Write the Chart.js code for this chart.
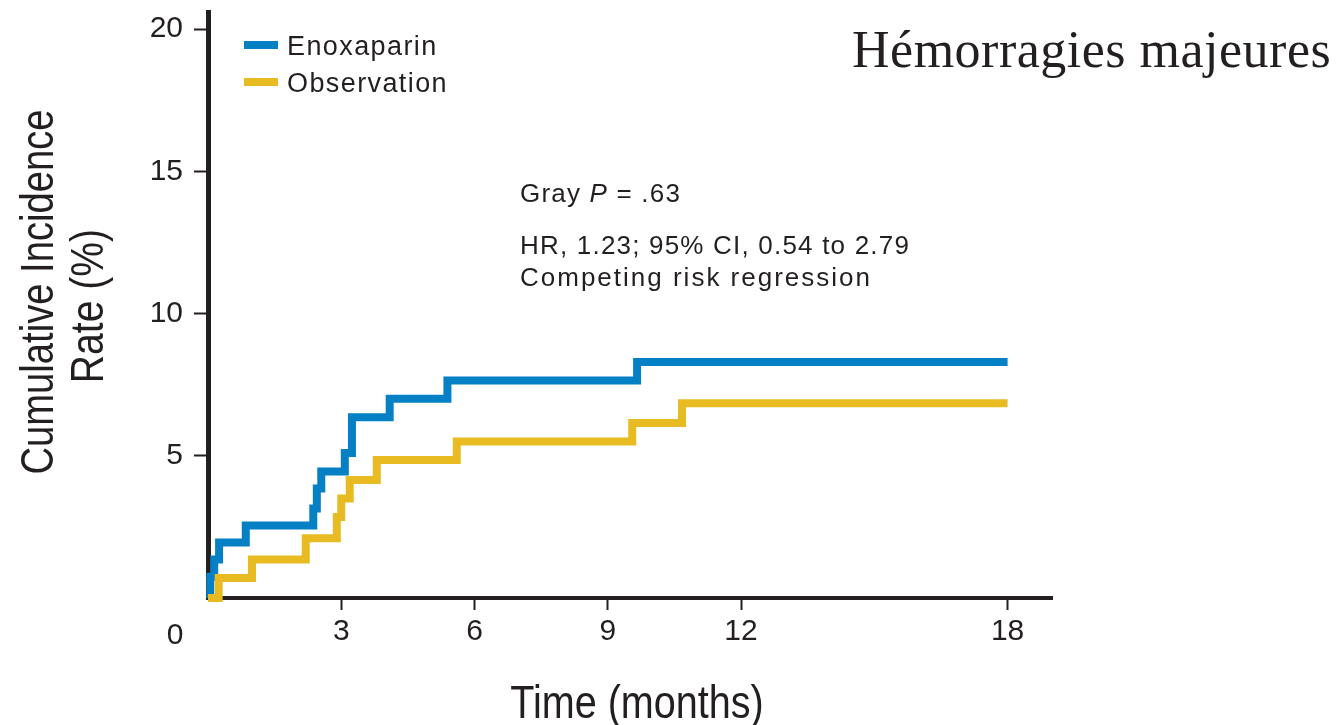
<!DOCTYPE html>
<html>
<head>
<meta charset="utf-8">
<script src="https://cdn.jsdelivr.net/npm/chart.js@4.4.1/dist/chart.umd.min.js"></script>
<style>
html,body{margin:0;padding:0;background:#fff}
#wrap{width:1342px;height:725px;position:relative}
</style>
</head>
<body>
<div id="wrap"><canvas id="ch"></canvas></div>
<script>
/* data (months, cumulative %) */
const enoxTimes=[0,0.05,0.14,0.25,0.85,2.37,2.45,2.55,3.08,3.24,4.09,5.39,9.66,18];
const enoxRates=[0,0.75,1.35,1.95,2.55,3.15,3.85,4.45,5.1,6.35,7.0,7.65,8.3,8.3];
const obsTimes=[0,0.24,0.99,2.2,2.9,3.0,3.19,3.8,5.6,9.55,10.67,18];
const obsRates=[0,0.7,1.35,2.1,2.85,3.5,4.15,4.85,5.5,6.15,6.85,6.85];
const xTicks=[3,6,9,12,18];
const yTicks=[5,10,15,20];
const seriesNames=['Enoxaparin','Observation'];
const statLines=['HR, 1.23; 95% CI, 0.54 to 2.79','Competing risk regression'];
const chartTitle='Hémorragies majeures';
const xTitle='Time (months)';
const yTitle=['Cumulative Incidence','Rate (%)'];

const INK='#231f20', BLUE='#0580c5', GOLD='#e8bb22';
const SANS='"Liberation Sans", Arial, Helvetica, sans-serif';

function pts(ts,vs){ return ts.map((t,i)=>({x:t,y:vs[i]})); }

function squeezed(ctx,text,x,y,sx,rot){
    ctx.save(); ctx.translate(x,y);
    if (rot) ctx.rotate(rot);
    ctx.scale(sx,1); ctx.fillText(text,0,0); ctx.restore();
}

const textPlugin={id:'textPlugin',afterDraw(c){
    const ctx=c.ctx;
    ctx.save();
    ctx.fillStyle=INK; ctx.textBaseline='alphabetic';

    // shared origin label
    ctx.font='30px '+SANS; ctx.textAlign='center';
    ctx.fillText('0',175,644);

    // axis titles (condensed)
    ctx.font='46px '+SANS; ctx.textAlign='center';
    squeezed(ctx,xTitle,637,718,0.86,0);
    squeezed(ctx,yTitle[0],53,292,0.83,-Math.PI/2);
    squeezed(ctx,yTitle[1],103,306,0.85,-Math.PI/2);

    // legend
    ctx.textAlign='left';
    ctx.fillStyle=BLUE; ctx.fillRect(244,41,34,8);
    ctx.fillStyle=GOLD; ctx.fillRect(244,78,34,8);
    ctx.fillStyle=INK; ctx.font='27px '+SANS; ctx.letterSpacing='1.4px';
    ctx.fillText(seriesNames[0],287,55);
    ctx.fillText(seriesNames[1],287,92);

    // stats
    ctx.font='26px '+SANS; ctx.letterSpacing='1.2px';
    let x=520;
    ctx.fillText('Gray ',x,202); x+=ctx.measureText('Gray ').width;
    ctx.font='italic 26px '+SANS;
    ctx.fillText('P',x,202); x+=ctx.measureText('P').width;
    ctx.font='26px '+SANS;
    ctx.fillText(' = .63',x,202);
    ctx.fillText(statLines[0],520,254);
    ctx.letterSpacing='2px';
    ctx.fillText(statLines[1],520,286);

    // title
    ctx.letterSpacing='0.5px';
    ctx.font='52px "Liberation Serif", "Times New Roman", serif';
    ctx.fillText(chartTitle,852,67);
    ctx.restore();
}};

const lineStyle={fill:false,pointRadius:0,borderWidth:8,stepped:'before',borderJoinStyle:'miter',borderCapStyle:'butt',clip:false};

new Chart(document.getElementById('ch'),{
    type:'line',
    data:{datasets:[
        {label:seriesNames[1],data:pts(obsTimes,obsRates),borderColor:GOLD,...lineStyle},
        {label:seriesNames[0],data:pts(enoxTimes,enoxRates),borderColor:BLUE,...lineStyle}
    ]},
    options:{
        responsive:true,maintainAspectRatio:false,animation:false,
        layout:{padding:{top:12,right:290,bottom:0,left:0}},
        plugins:{legend:{display:false},tooltip:{enabled:false}},
        scales:{
            x:{type:'linear',min:0,max:19,
                afterBuildTicks:s=>{s.ticks=xTicks.map(v=>({value:v}));},
                afterFit:s=>{s.height=127; s.paddingLeft=0; s.paddingRight=0;},
                grid:{display:true,drawOnChartArea:false,drawTicks:true,tickLength:12,tickWidth:2,tickColor:INK},
                border:{display:true,color:INK,width:4},
                ticks:{font:{family:SANS,size:30},color:INK,padding:4,maxRotation:0,autoSkip:false}},
            y:{type:'linear',min:0,max:20.6,
                afterBuildTicks:s=>{s.ticks=yTicks.map(v=>({value:v}));},
                afterFit:s=>{s.width=208; s.paddingTop=0; s.paddingBottom=0;},
                grid:{display:true,drawOnChartArea:false,drawTicks:true,tickLength:14,tickWidth:2,tickColor:INK},
                border:{display:true,color:INK,width:5},
                ticks:{font:{family:SANS,size:30},color:INK,padding:11,autoSkip:false}}
        }
    },
    plugins:[textPlugin]
});
</script>
</body>
</html>
